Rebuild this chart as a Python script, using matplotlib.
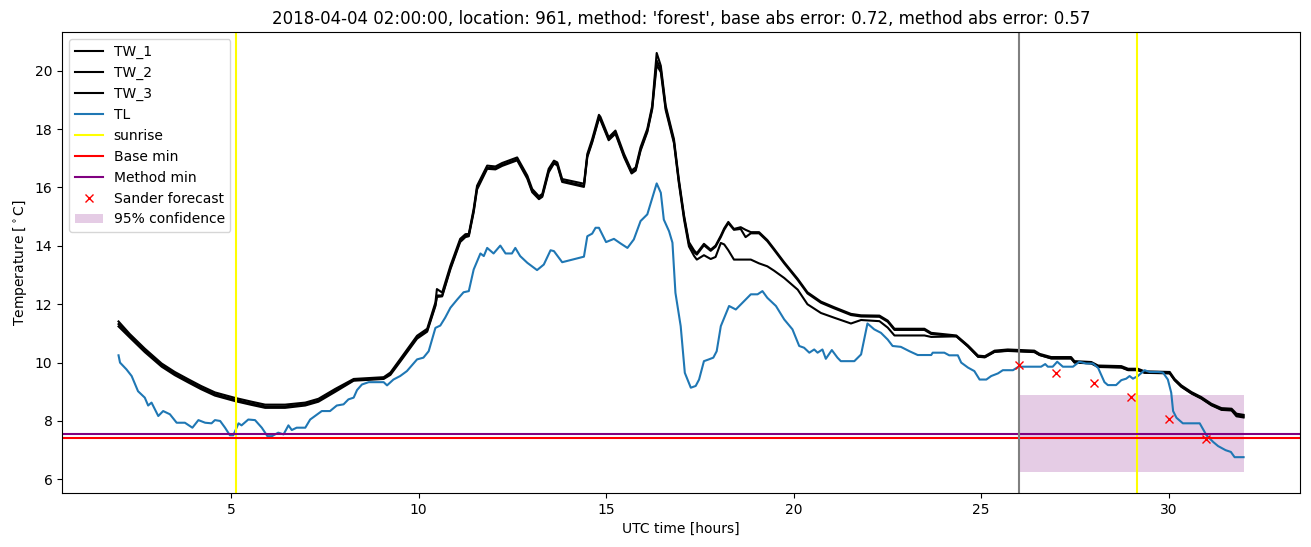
import matplotlib
matplotlib.use("Agg")
import matplotlib.pyplot as plt

# water temperature sensors
tw_hours = [2.0, 2.3, 2.7, 3.15, 3.5, 3.86, 4.2, 4.57, 5.11, 5.55,
            5.91, 6.44, 6.98, 7.33, 7.78, 8.27, 9.07, 9.25, 9.51, 9.96,
            10.23, 10.45, 10.49, 10.63, 10.85, 11.11, 11.25, 11.34, 11.47, 11.56,
            11.83, 12.05, 12.23, 12.63, 12.90, 13.03, 13.21, 13.30, 13.47, 13.61,
            13.70, 13.83, 14.41, 14.50, 14.63, 14.81, 14.85, 15.07, 15.25, 15.48,
            15.68, 15.79, 15.92, 16.10, 16.23, 16.35, 16.46, 16.59, 16.81, 16.94,
            17.08, 17.21, 17.35, 17.42, 17.61, 17.79, 17.92, 18.06, 18.15, 18.26,
            18.41, 18.59, 18.72, 18.86, 19.08, 19.30, 19.48, 19.75, 20.11, 20.37,
            20.73, 21.08, 21.53, 21.80, 22.29, 22.51, 22.69, 23.49, 23.67, 24.34,
            24.65, 24.92, 25.10, 25.36, 25.71, 26.42, 26.56, 26.87, 27.40, 27.49,
            27.94, 28.12, 28.74, 28.92, 29.18, 29.36, 30.03, 30.16, 30.34, 30.61,
            30.87, 31.14, 31.41, 31.68, 31.81, 32.0]

tw1 = [11.41, 10.98, 10.48, 9.97, 9.68, 9.43, 9.2, 8.98, 8.79, 8.66,
       8.56, 8.56, 8.63, 8.76, 9.1, 9.44, 9.5, 9.66, 10.12, 10.92,
       11.16, 12.06, 12.52, 12.4, 13.32, 14.24, 14.4, 14.41, 15.27, 16.06,
       16.75, 16.72, 16.84, 17.03, 16.41, 15.95, 15.7, 15.78, 16.64, 16.92,
       16.86, 16.29, 16.13, 17.15, 17.66, 18.49, 18.42, 17.72, 17.95, 17.15,
       16.58, 16.69, 17.38, 18.01, 18.8, 20.61, 20.17, 18.8, 17.66, 16.29,
       15.04, 14.13, 13.84, 13.75, 14.07, 13.87, 14.01, 14.35, 14.6, 14.82,
       14.58, 14.64, 14.55, 14.47, 14.47, 14.2, 13.9, 13.44, 12.87, 12.41,
       12.09, 11.9, 11.67, 11.62, 11.61, 11.44, 11.16, 11.16, 11.02, 10.93,
       10.59, 10.24, 10.22, 10.41, 10.45, 10.41, 10.3, 10.19, 10.19, 10.05,
       10.02, 9.9, 9.88, 9.79, 9.79, 9.7, 9.68, 9.44, 9.22, 8.99,
       8.82, 8.59, 8.44, 8.42, 8.25, 8.21]

tw2 = [11.32, 10.92, 10.42, 9.91, 9.62, 9.37, 9.14, 8.92, 8.73, 8.6,
       8.5, 8.5, 8.58, 8.7, 9.04, 9.4, 9.46, 9.62, 10.07, 10.86,
       11.1, 11.98, 12.3, 12.3, 13.24, 14.17, 14.34, 14.36, 15.2, 15.98,
       16.68, 16.66, 16.78, 16.97, 16.35, 15.88, 15.64, 15.72, 16.57, 16.86,
       16.8, 16.23, 16.06, 17.08, 17.58, 18.4, 18.35, 17.66, 17.88, 17.08,
       16.52, 16.62, 17.3, 17.94, 18.72, 20.35, 20.05, 18.72, 17.58, 16.22,
       14.98, 14.07, 13.78, 13.7, 14.02, 13.83, 13.97, 14.3, 14.55, 14.78,
       14.55, 14.58, 14.3, 14.43, 14.43, 14.16, 13.86, 13.4, 12.83, 12.37,
       12.05, 11.86, 11.63, 11.58, 11.57, 11.4, 11.12, 11.12, 10.98, 10.9,
       10.55, 10.2, 10.18, 10.37, 10.41, 10.37, 10.26, 10.15, 10.15, 10.01,
       9.98, 9.86, 9.84, 9.75, 9.75, 9.66, 9.64, 9.4, 9.18, 8.95,
       8.78, 8.55, 8.4, 8.38, 8.2, 8.16]

tw3 = [11.24, 10.86, 10.36, 9.86, 9.57, 9.32, 9.09, 8.87, 8.68, 8.55,
       8.45, 8.45, 8.53, 8.66, 9.0, 9.38, 9.44, 9.58, 10.03, 10.82,
       11.06, 11.94, 12.25, 12.27, 13.2, 14.13, 14.3, 14.33, 15.15, 15.93,
       16.64, 16.62, 16.74, 16.93, 16.3, 15.84, 15.6, 15.68, 16.52, 16.82,
       16.76, 16.19, 16.02, 17.04, 17.54, 18.36, 18.31, 17.62, 17.84, 17.04,
       16.48, 16.58, 17.26, 17.9, 18.68, 20.2, 19.95, 18.65, 17.52, 16.16,
       14.9, 13.98, 13.65, 13.53, 13.68, 13.55, 13.62, 14.1, 14.05, 13.85,
       13.53, 13.53, 13.53, 13.53, 13.4, 13.3, 13.15, 12.9, 12.5, 12.0,
       11.7, 11.54, 11.34, 11.46, 11.42, 11.2, 10.93, 10.93, 10.88, 10.9,
       10.56, 10.2, 10.19, 10.37, 10.4, 10.36, 10.26, 10.14, 10.14, 10.0,
       9.97, 9.85, 9.83, 9.74, 9.74, 9.65, 9.63, 9.4, 9.17, 8.94,
       8.77, 8.54, 8.38, 8.36, 8.16, 8.12]

# air temperature
tl_hours = [2.0, 2.04, 2.21, 2.35, 2.52, 2.70, 2.79, 2.88, 3.06, 3.19,
            3.37, 3.55, 3.77, 3.97, 4.13, 4.31, 4.48, 4.57, 4.71, 4.84,
            4.97, 5.06, 5.20, 5.28, 5.46, 5.64, 5.82, 5.97, 6.09, 6.26,
            6.40, 6.53, 6.62, 6.75, 6.98, 7.11, 7.42, 7.64, 7.82, 8.0,
            8.13, 8.27, 8.36, 8.49, 8.67, 9.07, 9.16, 9.33, 9.51, 9.69,
            9.96, 10.13, 10.27, 10.45, 10.58, 10.71, 10.85, 11.03, 11.20, 11.34,
            11.47, 11.65, 11.74, 11.83, 12.0, 12.18, 12.32, 12.49, 12.58, 12.71,
            12.90, 13.16, 13.34, 13.52, 13.61, 13.83, 14.41, 14.50, 14.63, 14.72,
            14.81, 15.0, 15.21, 15.39, 15.57, 15.74, 15.92, 16.10, 16.35, 16.46,
            16.54, 16.68, 16.77, 16.85, 16.99, 17.10, 17.26, 17.39, 17.48, 17.61,
            17.74, 17.86, 17.95, 18.06, 18.28, 18.46, 18.86, 19.04, 19.17, 19.30,
            19.53, 19.75, 19.97, 20.15, 20.28, 20.42, 20.55, 20.64, 20.77, 20.86,
            21.02, 21.17, 21.26, 21.62, 21.80, 21.97, 22.15, 22.33, 22.51, 22.64,
            22.86, 23.09, 23.31, 23.67, 23.71, 24.02, 24.15, 24.38, 24.47, 24.65,
            24.82, 24.96, 25.14, 25.27, 25.45, 25.58, 25.85, 26.0, 26.60, 26.71,
            26.78, 26.91, 27.03, 27.18, 27.45, 27.62, 27.80, 27.98, 28.12, 28.29,
            28.38, 28.60, 28.74, 28.87, 28.96, 29.05, 29.18, 29.36, 29.49, 29.72,
            29.85, 29.98, 30.07, 30.12, 30.21, 30.38, 30.83, 31.01, 31.19, 31.32,
            31.52, 31.66, 31.76, 32.0]

tl = [10.25, 10.0, 9.77, 9.54, 9.02, 8.80, 8.53, 8.63, 8.17, 8.34,
      8.23, 7.94, 7.94, 7.77, 8.03, 7.94, 7.92, 8.03, 8.0, 7.77,
      7.51, 7.51, 7.92, 7.85, 8.05, 8.03, 7.77, 7.48, 7.48, 7.60,
      7.54, 7.85, 7.69, 7.77, 7.77, 8.05, 8.34, 8.34, 8.53, 8.57,
      8.74, 8.80, 9.06, 9.25, 9.33, 9.33, 9.22, 9.42, 9.54, 9.71,
      10.11, 10.17, 10.39, 11.19, 11.27, 11.54, 11.88, 12.16, 12.41, 12.45,
      13.19, 13.74, 13.65, 13.93, 13.74, 14.01, 13.74, 13.74, 13.93, 13.65,
      13.42, 13.17, 13.36, 13.85, 13.82, 13.44, 13.63, 14.33, 14.42, 14.62,
      14.62, 14.13, 14.24, 14.08, 13.93, 14.22, 14.85, 15.08, 16.14, 15.82,
      14.90, 14.50, 14.11, 12.39, 11.25, 9.65, 9.14, 9.20, 9.42, 10.05,
      10.11, 10.17, 10.39, 11.25, 11.94, 11.82, 12.34, 12.34, 12.45, 12.22,
      11.94, 11.48, 11.14, 10.57, 10.51, 10.34, 10.45, 10.34, 10.45, 10.13,
      10.43, 10.17, 10.05, 10.05, 10.28, 11.34, 11.14, 11.02, 10.79, 10.57,
      10.54, 10.39, 10.26, 10.26, 10.34, 10.34, 10.25, 10.25, 10.0, 9.83,
      9.71, 9.42, 9.42, 9.54, 9.63, 9.74, 9.74, 9.86, 9.86, 9.95,
      9.86, 9.86, 10.03, 9.86, 9.86, 10.03, 9.97, 9.97, 9.82, 9.33,
      9.23, 9.23, 9.40, 9.45, 9.54, 9.45, 9.54, 9.74, 9.68, 9.68,
      9.66, 9.42, 8.97, 8.34, 8.11, 7.92, 7.92, 7.51, 7.28, 7.14,
      7.00, 6.94, 6.76, 6.76]

forecast_hours = [26, 27, 28, 29, 30, 31]
forecast_temps = [9.91, 9.65, 9.31, 8.82, 8.08, 7.39]

sunrise_hours = [5.13, 29.17]
base_min = 7.42
method_min = 7.54
forecast_start = 26
conf_hours = [26, 32]
conf_low = 6.25
conf_high = 8.88

title = ("2018-04-04 02:00:00, location: 961, method: 'forest', "
         "base abs error: 0.72, method abs error: 0.57")

fig, ax = plt.subplots(figsize=(13.11, 5.47), dpi=100)
fig.subplots_adjust(left=0.0475, right=0.9915, bottom=0.0987, top=0.9415)

ax.plot(tw_hours, tw1, color='black', label='TW_1')
ax.plot(tw_hours, tw2, color='black', label='TW_2')
ax.plot(tw_hours, tw3, color='black', label='TW_3')
ax.plot(tl_hours, tl, color='C0', label='TL')

for i, h in enumerate(sunrise_hours):
    ax.axvline(h, color='yellow', label='sunrise' if i == 0 else None)
ax.axhline(base_min, color='red', label='Base min')
ax.axhline(method_min, color='purple', label='Method min')
ax.axvline(forecast_start, color='gray')
ax.plot(forecast_hours, forecast_temps, 'rx', label='Sander forecast')
ax.fill_between(conf_hours, [conf_low] * 2, [conf_high] * 2,
                color='purple', alpha=0.2, linewidth=0, label='95% confidence')

ax.set_title(title)
ax.set_xlabel('UTC time [hours]')
ax.set_ylabel(r'Temperature [$^\circ$C]')
ax.legend(loc='upper left')

plt.savefig('out.png', dpi=100)
